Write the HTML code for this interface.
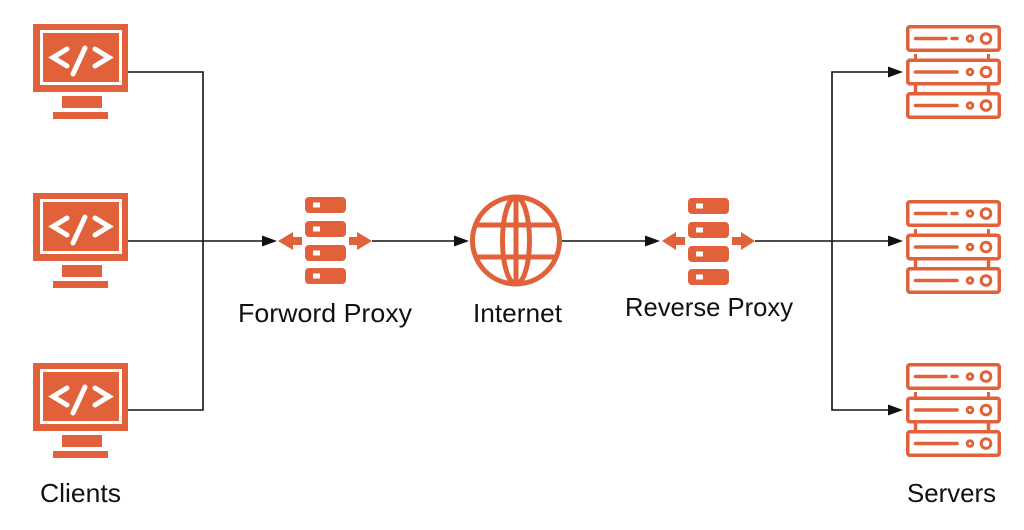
<!DOCTYPE html>
<html><head><meta charset="utf-8"><style>
html,body{margin:0;padding:0;background:#fff;}
svg{display:block;}
text{font-family:"Liberation Sans",Arial,sans-serif;font-size:26px;fill:#111;}
</style></head><body>
<svg width="1024" height="530" viewBox="0 0 1024 530" xmlns="http://www.w3.org/2000/svg">
<defs>
  <g id="mon">
    <rect x="33" y="24" width="95" height="68" fill="#E1623A"/>
    <rect x="41.5" y="31.5" width="79" height="52" fill="none" stroke="#fff" stroke-width="3"/>
    <polyline points="67,49 53,57.5 67,66" fill="none" stroke="#fff" stroke-width="5" stroke-linejoin="miter" stroke-linecap="round"/>
    <line x1="73" y1="74" x2="85" y2="48" stroke="#fff" stroke-width="5" stroke-linecap="round"/>
    <polyline points="95,49 109,57.5 95,66" fill="none" stroke="#fff" stroke-width="5" stroke-linejoin="miter" stroke-linecap="round"/>
    <rect x="62" y="96" width="40" height="12" fill="#E1623A"/>
    <rect x="53" y="112" width="55" height="7" fill="#E1623A"/>
  </g>
  <g id="srv" fill="none" stroke="#E1623A">
    <rect x="907.75" y="26.75" width="91.5" height="23.5" rx="2" stroke-width="3.5"/>
    <rect x="907.75" y="60.25" width="91.5" height="23.5" rx="2" stroke-width="3.5"/>
    <rect x="907.75" y="93.75" width="91.5" height="23.5" rx="2" stroke-width="3.5"/>
    <line x1="915.5" y1="38.5" x2="946" y2="38.5" stroke-width="3.5" stroke-linecap="round"/>
    <line x1="952" y1="38.5" x2="957" y2="38.5" stroke-width="3.5" stroke-linecap="round"/>
    <circle cx="970" cy="38.5" r="2.8" stroke-width="3"/>
    <circle cx="986" cy="38.5" r="4.8" stroke-width="3"/>
    <line x1="915.5" y1="72" x2="957" y2="72" stroke-width="3.5" stroke-linecap="round"/>
    <circle cx="970" cy="72" r="2.8" stroke-width="3"/>
    <circle cx="986" cy="72" r="4.8" stroke-width="3"/>
    <line x1="915.5" y1="105.5" x2="957" y2="105.5" stroke-width="3.5" stroke-linecap="round"/>
    <circle cx="970" cy="105.5" r="2.8" stroke-width="3"/>
    <circle cx="986" cy="105.5" r="4.8" stroke-width="3"/>
    <line x1="915.5" y1="54" x2="915.5" y2="59" stroke-width="3"/>
    <line x1="988.5" y1="54" x2="988.5" y2="59" stroke-width="3"/>
    <line x1="915.5" y1="85" x2="915.5" y2="93" stroke-width="3.5"/>
    <line x1="988.5" y1="85" x2="988.5" y2="93" stroke-width="3.5"/>
  </g>
  <g id="stack" fill="#E1623A">
    <rect x="0" y="0" width="41" height="16" rx="4"/>
    <rect x="0" y="24" width="41" height="16" rx="4"/>
    <rect x="0" y="48" width="41" height="16" rx="4"/>
    <rect x="0" y="71" width="41" height="16" rx="4"/>
    <rect x="8" y="5.5" width="7" height="5" fill="#fff"/>
    <rect x="8" y="29.5" width="7" height="5" fill="#fff"/>
    <rect x="8" y="53.5" width="7" height="5" fill="#fff"/>
    <rect x="8" y="76.5" width="7" height="5" fill="#fff"/>
  </g>
</defs>

<!-- clients -->
<use href="#mon"/>
<use href="#mon" y="169"/>
<use href="#mon" y="339"/>

<!-- servers -->
<use href="#srv"/>
<use href="#srv" y="175"/>
<use href="#srv" y="338"/>

<!-- connectors -->
<g stroke="#111" stroke-width="1.6" fill="none">
  <polyline points="128,72 203,72 203,410 128,410"/>
  <line x1="128" y1="241" x2="264" y2="241"/>
  <line x1="372" y1="241" x2="455" y2="241"/>
  <line x1="561" y1="241" x2="647" y2="241"/>
  <line x1="755" y1="241" x2="889" y2="241"/>
  <polyline points="889,72 832,72 832,410 889,410"/>
</g>
<g fill="#111">
  <polygon points="277,241 262,235.5 262,246.5"/>
  <polygon points="469,241 454,235.5 454,246.5"/>
  <polygon points="660,241 645,235.5 645,246.5"/>
  <polygon points="903,72 888,66.5 888,77.5"/>
  <polygon points="903,241 888,235.5 888,246.5"/>
  <polygon points="903,410 888,404.5 888,415.5"/>
</g>

<!-- forward proxy -->
<use href="#stack" x="305" y="197"/>
<g fill="#E1623A">
  <polygon points="278,241 293,232 293,237 302,237 302,245 293,245 293,250"/>
  <polygon points="372,241 357,232 357,237 349,237 349,245 357,245 357,250"/>
</g>

<!-- globe -->
<g fill="none" stroke="#E1623A" stroke-width="5">
  <circle cx="516" cy="240.5" r="43.5"/>
  <ellipse cx="516" cy="240.5" rx="13.5" ry="43.5"/>
  <line x1="516" y1="197" x2="516" y2="284"/>
  <line x1="476" y1="225" x2="556" y2="225"/>
  <line x1="476" y1="257" x2="556" y2="257"/>
</g>

<!-- reverse proxy -->
<use href="#stack" x="688" y="198"/>
<g fill="#E1623A">
  <polygon points="662,241 676,232 676,237 685,237 685,245 676,245 676,250"/>
  <polygon points="755,241 741,232 741,237 732,237 732,245 741,245 741,250"/>
</g>

<!-- labels -->
<text x="238" y="322" textLength="174" lengthAdjust="spacingAndGlyphs">Forword Proxy</text>
<text x="473" y="322" textLength="89" lengthAdjust="spacingAndGlyphs">Internet</text>
<text x="625" y="316" textLength="168" lengthAdjust="spacingAndGlyphs">Reverse Proxy</text>
<text x="40" y="502" textLength="81" lengthAdjust="spacingAndGlyphs">Clients</text>
<text x="907" y="502" textLength="89" lengthAdjust="spacingAndGlyphs">Servers</text>
</svg>
</body></html>
